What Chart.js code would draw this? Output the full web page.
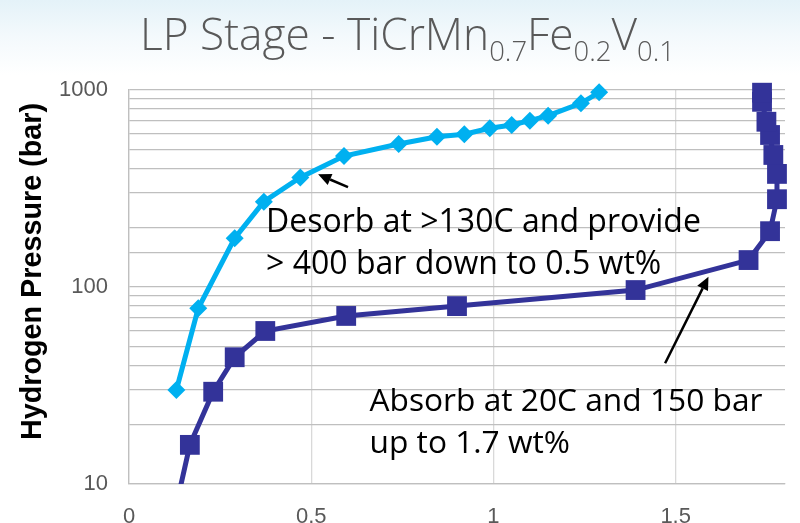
<!DOCTYPE html>
<html><head><meta charset="utf-8">
<script src="https://cdn.jsdelivr.net/npm/chart.js@4"></script>
<style>
html,body{margin:0;padding:0;width:800px;height:523px;overflow:hidden;
background:linear-gradient(to bottom,#e4f2f8 0px,#f3f9fc 35px,#ffffff 75px);}
#wrap{position:relative;width:800px;height:545px;}
</style></head><body>
<div id="wrap"><canvas id="c" width="800" height="545"></canvas></div>
<script>
// ---- data ----
const desorbWt  = [0.13, 0.19, 0.29, 0.37, 0.47, 0.59, 0.74, 0.845, 0.92, 0.99, 1.05, 1.10, 1.15, 1.24, 1.29];
const desorbBar = [30, 78, 177, 271, 360, 462, 532, 579, 596, 639, 664, 699, 741, 856, 973];
const absorbWt  = [0.135, 0.167, 0.231, 0.29, 0.374, 0.596, 0.90, 1.39, 1.70, 1.759, 1.778, 1.778, 1.768, 1.759, 1.749, 1.737, 1.737];
const absorbBar = [8.6, 15.8, 29.4, 44, 59.8, 71.3, 80, 96.5, 137, 192, 279, 375, 468, 591, 690, 871, 969];
const xTicks = [0, 0.5, 1, 1.5];
const yTicks = [10, 100, 1000];
const titleParts = [["LP Stage - TiCrMn", false], ["0.7", true], ["Fe", false], ["0.2", true], ["V", false], ["0.1", true]];
const yTitle = "Hydrogen Pressure (bar)";
const noteDesorb = ["Desorb at >130C and provide", "> 400 bar down to 0.5 wt%"];
const noteAbsorb = ["Absorb at 20C and 150 bar", "up to 1.7 wt%"];

// annotation anchors (data coordinates)
const notes = [
  {lines: noteDesorb, x: 0.376, y: 190, width: 435},
  {lines: noteAbsorb, x: 0.660, y: 23.5, width: 393}
];
const arrows = [
  {from: {x: 0.601, y: 321}, to: {x: 0.519, y: 373}},
  {from: {x: 1.471, y: 41},  to: {x: 1.590, y: 112.8}}
];

const toXY = (xs, ys) => xs.map((v, i) => ({x: v, y: ys[i]}));

const overlay = {
  id: 'overlay',
  afterDraw(chart) {
    const ctx = chart.ctx, xs = chart.scales.x, ys = chart.scales.y;
    ctx.save();
    // title
    const fam = "'Open Sans', 'Liberation Sans', sans-serif";
    const measure = (F) => {
      let w = 0;
      for (const [t, sub] of titleParts) {
        ctx.font = `300 ${sub ? F * 0.62 : F}px ${fam}`;
        w += ctx.measureText(t).width;
      }
      return w;
    };
    const F = 40 * 535 / measure(40);
    let tx = 140;
    ctx.fillStyle = '#595959';
    ctx.textBaseline = 'alphabetic';
    ctx.textAlign = 'left';
    for (const [t, sub] of titleParts) {
      ctx.font = `300 ${sub ? F * 0.62 : F}px ${fam}`;
      ctx.fillText(t, tx, sub ? 61 : 50);
      tx += ctx.measureText(t).width;
    }
    // y-axis title
    ctx.save();
    ctx.fillStyle = '#000';
    ctx.font = `bold 26px 'Liberation Sans', Arial, sans-serif`;
    const yf = 26 * 337 / ctx.measureText(yTitle).width;
    ctx.font = `bold ${yf}px 'Liberation Sans', Arial, sans-serif`;
    ctx.translate(33, 271.5);
    ctx.rotate(-Math.PI / 2);
    ctx.textAlign = 'center';
    ctx.textBaseline = 'middle';
    ctx.fillText(yTitle, 0, 0);
    ctx.restore();
    // notes
    ctx.fillStyle = '#000';
    ctx.textAlign = 'left';
    ctx.textBaseline = 'alphabetic';
    for (const n of notes) {
      ctx.font = `30px ${fam}`;
      const fs = 30 * n.width / ctx.measureText(n.lines[0]).width;
      ctx.font = `${fs}px ${fam}`;
      const px = xs.getPixelForValue(n.x), py = ys.getPixelForValue(n.y);
      n.lines.forEach((l, i) => ctx.fillText(l, px, py + i * 42));
    }
    // arrows
    ctx.strokeStyle = '#000';
    ctx.fillStyle = '#000';
    ctx.lineWidth = 2.5;
    for (const a of arrows) {
      const x1 = xs.getPixelForValue(a.from.x), y1 = ys.getPixelForValue(a.from.y);
      const x2 = xs.getPixelForValue(a.to.x), y2 = ys.getPixelForValue(a.to.y);
      const ang = Math.atan2(y2 - y1, x2 - x1);
      const hl = 13, hw = 6;
      const bx = x2 - hl * Math.cos(ang), by = y2 - hl * Math.sin(ang);
      ctx.beginPath();
      ctx.moveTo(x1, y1); ctx.lineTo(bx, by); ctx.stroke();
      ctx.beginPath();
      ctx.moveTo(x2, y2);
      ctx.lineTo(bx + hw * Math.sin(ang), by - hw * Math.cos(ang));
      ctx.lineTo(bx - hw * Math.sin(ang), by + hw * Math.cos(ang));
      ctx.closePath(); ctx.fill();
    }
    ctx.restore();
  }
};

new Chart(document.getElementById('c'), {
  type: 'line',
  data: {
    datasets: [
      {
        label: 'Desorb',
        data: toXY(desorbWt, desorbBar),
        borderColor: '#00B0F0', backgroundColor: '#00B0F0',
        borderWidth: 5, pointStyle: 'rectRot', pointRadius: 9, pointBorderWidth: 0,
        pointBackgroundColor: '#00B0F0', tension: 0,
        clip: {left: 0, top: 20, right: 20, bottom: 0}
      },
      {
        label: 'Absorb',
        data: toXY(absorbWt, absorbBar),
        borderColor: '#333399', backgroundColor: '#333399',
        borderWidth: 5, pointStyle: 'rect', pointRadius: 14, pointBorderWidth: 0,
        pointBackgroundColor: '#333399', tension: 0,
        clip: {left: 0, top: 20, right: 20, bottom: 0}
      }
    ]
  },
  options: {
    responsive: false, animation: false, devicePixelRatio: 1,
    layout: {padding: {top: 90, right: 15, left: 0, bottom: 0}},
    plugins: {legend: {display: false}, tooltip: {enabled: false}, title: {display: false}},
    scales: {
      x: {
        type: 'linear', min: 0, max: 1.8,
        afterBuildTicks: (s) => { s.ticks = xTicks.map(v => ({value: v})); },
        afterFit: (s) => { s.height = 61; },
        grid: {color: '#d9d9d9', lineWidth: 1.3, drawTicks: false},
        border: {color: '#bfbfbf', width: 1.3},
        ticks: {padding: 20, color: '#595959', font: {family: "'Liberation Sans', Arial, sans-serif", size: 22},
                callback: (v) => String(v), maxRotation: 0, autoSkip: false}
      },
      y: {
        type: 'logarithmic', min: 10, max: 1000,
        afterFit: (s) => { s.width = 129; },
        grid: {color: '#bfbfbf', lineWidth: 1.3, drawTicks: false},
        border: {color: '#bfbfbf', width: 1.3},
        ticks: {padding: 21, color: '#595959', autoSkip: false,
                font: {family: "'Liberation Sans', Arial, sans-serif", size: 22},
                callback: (v) => yTicks.includes(v) ? String(v) : ''}
      }
    }
  },
  plugins: [overlay]
});
</script>
</body></html>
